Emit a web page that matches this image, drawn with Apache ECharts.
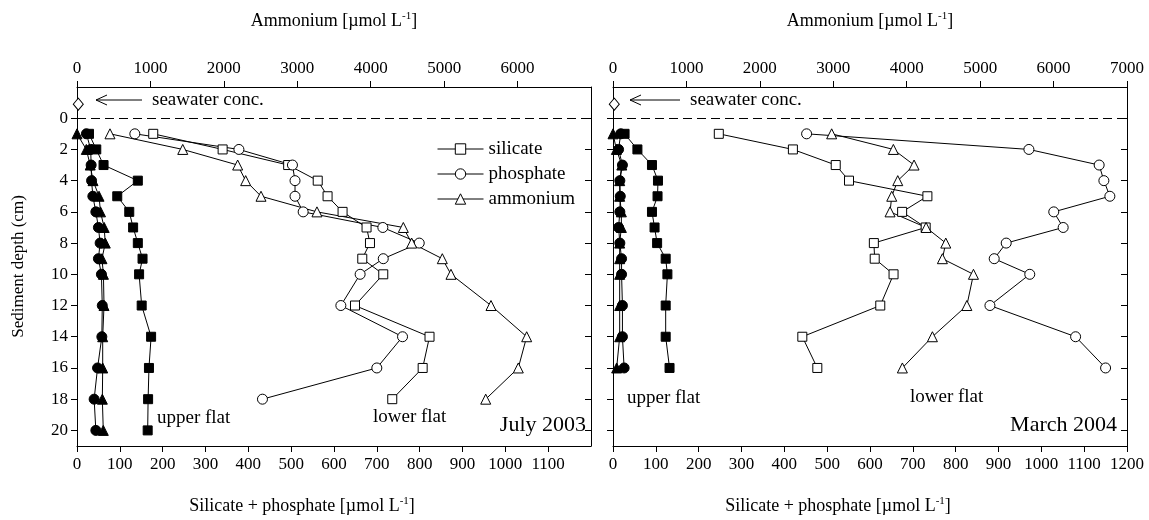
<!DOCTYPE html>
<html><head><meta charset="utf-8">
<script src="https://cdn.jsdelivr.net/npm/echarts@6/dist/echarts.min.js"></script>
<style>html,body{margin:0;padding:0;background:#fff}#c{width:1149px;height:520px}</style>
</head><body><div id="c"></div>
<script>
// ---------- data ----------
const depthTicks = [0, 2, 4, 6, 8, 10, 12, 14, 16, 18, 20];
const julyUpperDepth = [1, 2, 3, 4, 5, 6, 7, 8, 9, 10, 12, 14, 16, 18, 20];
const julyLowerDepth = [1, 2, 3, 4, 5, 6, 7, 8, 9, 10, 12, 14, 16, 18];
const marchDepth = [1, 2, 3, 4, 5, 6, 7, 8, 9, 10, 12, 14, 16];

// July 2003 - upper flat (filled)
const julyUpperSilicate = [28, 45, 62, 142, 94, 122, 131, 142, 153, 145, 151, 173, 168, 166, 165];
const julyUpperPhosphate = [22, 32, 33, 34, 37, 44, 50, 54, 50, 57, 59, 58, 48, 40, 44];
const julyUpperAmmonium = [0, 127, 180, 218, 300, 320, 370, 385, 340, 360, 368, 350, 350, 345, 358];
// July 2003 - lower flat (open)
const julyLowerSilicate = [178, 340, 493, 562, 585, 620, 676, 684, 666, 715, 649, 823, 807, 736];
const julyLowerPhosphate = [135, 378, 503, 509, 509, 528, 714, 799, 715, 661, 616, 760, 700, 433];
const julyLowerAmmonium = [449, 1440, 2188, 2297, 2506, 3268, 4444, 4558, 4975, 5093, 5638, 6124, 6010, 5566];

// March 2004 - upper flat (filled)
const marchUpperSilicate = [27, 57, 91, 105, 104, 91, 97, 103, 123, 127, 123, 123, 132];
const marchUpperPhosphate = [18, 13, 22, 16, 17, 16, 13, 16, 20, 20, 22, 22, 26];
const marchUpperAmmonium = [0, 46, 120, 91, 91, 114, 114, 91, 91, 91, 91, 91, 50];
// March 2004 - lower flat (open)
const marchLowerSilicate = [247, 420, 520, 551, 734, 675, 730, 609, 611, 655, 624, 442, 477];
const marchLowerPhosphate = [452, 971, 1135, 1146, 1160, 1029, 1051, 918, 890, 973, 880, 1080, 1150];
const marchLowerAmmonium = [2978, 3818, 4100, 3878, 3796, 3773, 4264, 4532, 4486, 4909, 4819, 4350, 3941];

// seawater concentration marker
const seawaterValue = [3];
const seawaterDepth = [-0.9];

// ---------- chart ----------
const FONT = 'Liberation Serif';
const BLACK = '#000';
const pairs = (vals, depths) => vals.map((v, i) => [v, depths[i]]);

function ser(name, xi, yi, vals, depths, symbol, filled, size) {
  return {
    name: name, type: 'line', xAxisIndex: xi, yAxisIndex: yi,
    data: pairs(vals, depths),
    symbol: symbol, symbolSize: size, showSymbol: true,
    lineStyle: { color: BLACK, width: 1 },
    itemStyle: { color: filled ? BLACK : '#fff', borderColor: BLACK, borderWidth: 1 },
    emphasis: { disabled: true },
    animation: false, z: 3
  };
}

const plain = v => String(v);

const xBase = (grid, pos, max, interval, showMax) => ({
  type: 'value', gridIndex: grid, position: pos, min: 0, max: max, interval: interval,
  axisLine: { show: true, onZero: false, lineStyle: { color: BLACK, width: 1 } },
  axisTick: { show: true, length: 6, lineStyle: { color: BLACK } },
  axisLabel: { color: BLACK, fontFamily: FONT, fontSize: 17, margin: 10, showMaxLabel: showMax, formatter: plain },
  splitLine: { show: false }
});

const titleRich = {
  t: { fontFamily: FONT, fontSize: 18, color: BLACK },
  s: { fontFamily: FONT, fontSize: 11, color: BLACK, padding: [0, 0, 9, 0] }
};

const xAxes = [
  Object.assign(xBase(0, 'bottom', 1200, 100, false), {
    name: '{t|Silicate + phosphate [µmol L}{s|-1}{t|]}', nameLocation: 'middle', nameGap: 50,
    nameTextStyle: { rich: titleRich, padding: [0, 64, 0, 0] } }),
  Object.assign(xBase(0, 'top', 7000, 1000, false), {
    name: '{t|Ammonium [µmol L}{s|-1}{t|]}', nameLocation: 'middle', nameGap: 56,
    nameTextStyle: { rich: titleRich } }),
  Object.assign(xBase(1, 'bottom', 1200, 100, true), {
    name: '{t|Silicate + phosphate [µmol L}{s|-1}{t|]}', nameLocation: 'middle', nameGap: 50,
    nameTextStyle: { rich: titleRich, padding: [0, 64, 0, 0] } }),
  Object.assign(xBase(1, 'top', 7000, 1000, true), {
    name: '{t|Ammonium [µmol L}{s|-1}{t|]}', nameLocation: 'middle', nameGap: 56,
    nameTextStyle: { rich: titleRich } })
];

const yBase = (grid, pos, showLabel, inside) => ({
  type: 'value', gridIndex: grid, position: pos, inverse: true, min: -2, max: 21,
  axisLine: { show: true, onZero: false, lineStyle: { color: BLACK, width: 1 } },
  axisTick: { show: true, inside: inside, length: 6, customValues: depthTicks, lineStyle: { color: BLACK } },
  axisLabel: { show: showLabel, customValues: depthTicks, color: BLACK, fontFamily: FONT, fontSize: 17, margin: 9, formatter: plain },
  splitLine: { show: false }
});

const yAxes = [
  Object.assign(yBase(0, 'left', true, false), {
    name: 'Sediment depth (cm)', nameLocation: 'middle', nameGap: 50,
    nameTextStyle: { fontFamily: FONT, fontSize: 17, color: BLACK } }),
  yBase(0, 'right', false, true),
  yBase(1, 'left', false, false),
  yBase(1, 'right', false, true)
];

const dashLine = {
  silent: true, symbol: ['none', 'none'], label: { show: false },
  lineStyle: { color: BLACK, type: [9, 5], width: 1 },
  emphasis: { disabled: true },
  data: [{ yAxis: 0 }], animation: false
};

const series = [
  // July (left panel)
  Object.assign(ser('seawater', 0, 0, seawaterValue, seawaterDepth, 'diamond', false, [10, 12]), { markLine: dashLine }),
  ser('silicate upper J', 0, 0, julyUpperSilicate, julyUpperDepth, 'rect', true, 9),
  ser('phosphate upper J', 0, 0, julyUpperPhosphate, julyUpperDepth, 'circle', true, 10),
  ser('ammonium upper J', 1, 0, julyUpperAmmonium, julyUpperDepth, 'triangle', true, 10),
  ser('silicate', 0, 0, julyLowerSilicate, julyLowerDepth, 'rect', false, 9),
  ser('phosphate', 0, 0, julyLowerPhosphate, julyLowerDepth, 'circle', false, 10),
  ser('ammonium', 1, 0, julyLowerAmmonium, julyLowerDepth, 'triangle', false, 10),
  // March (right panel)
  Object.assign(ser('seawater M', 2, 2, seawaterValue, seawaterDepth, 'diamond', false, [10, 12]), { markLine: dashLine }),
  ser('silicate upper M', 2, 2, marchUpperSilicate, marchDepth, 'rect', true, 9),
  ser('phosphate upper M', 2, 2, marchUpperPhosphate, marchDepth, 'circle', true, 10),
  ser('ammonium upper M', 3, 2, marchUpperAmmonium, marchDepth, 'triangle', true, 10),
  ser('silicate M', 2, 2, marchLowerSilicate, marchDepth, 'rect', false, 9),
  ser('phosphate M', 2, 2, marchLowerPhosphate, marchDepth, 'circle', false, 10),
  ser('ammonium M', 3, 2, marchLowerAmmonium, marchDepth, 'triangle', false, 10)
];

const txt = (x, y, text, size, align) => ({
  type: 'text', x: x, y: y, silent: true,
  style: { text: text, fontFamily: FONT, fontSize: size, fill: BLACK, align: align || 'left', verticalAlign: 'middle' }
});
const arrow = (x1, x2, y) => ([
  { type: 'line', silent: true, shape: { x1: x1, y1: y, x2: x2, y2: y }, style: { stroke: BLACK, lineWidth: 1 } },
  { type: 'polyline', silent: true, shape: { points: [[x1 + 11, y - 5], [x1, y], [x1 + 11, y + 5]] }, style: { stroke: BLACK, lineWidth: 1, fill: null } }
]);

const chart = echarts.init(document.getElementById('c'), null, { renderer: 'canvas' });
chart.setOption({
  animation: false,
  backgroundColor: '#fff',
  grid: [
    { left: 77, top: 87, width: 514, height: 359 },
    { left: 613, top: 87, width: 514, height: 359 }
  ],
  xAxis: xAxes,
  yAxis: yAxes,
  legend: {
    orient: 'vertical', left: 432, top: 134, itemWidth: 46, itemHeight: 13, itemGap: 5,
    selectedMode: false,
    data: ['silicate', 'phosphate', 'ammonium'],
    lineStyle: { width: 1 },
    itemStyle: { borderWidth: 1 },
    textStyle: { fontFamily: FONT, fontSize: 19, color: BLACK, padding: [0, 0, 0, 0], lineHeight: 20 }
  },
  series: series,
  graphic: [
    ...arrow(96, 142, 100),
    txt(152, 100, 'seawater conc.', 19),
    ...arrow(630, 680, 100),
    txt(690, 100, 'seawater conc.', 19),
    txt(157, 418, 'upper flat', 19),
    txt(373, 417, 'lower flat', 19),
    txt(586, 425, 'July 2003', 22, 'right'),
    txt(627, 398, 'upper flat', 19),
    txt(910, 397, 'lower flat', 19),
    txt(1117, 425, 'March 2004', 22, 'right')
  ]
});
</script>
</body></html>
